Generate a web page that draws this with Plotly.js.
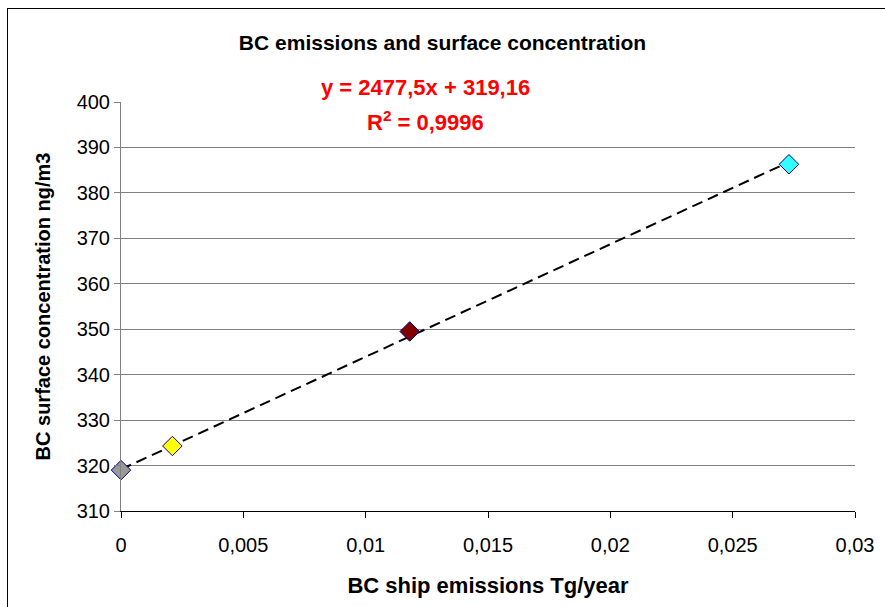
<!DOCTYPE html>
<html>
<head>
<meta charset="utf-8">
<script src="https://cdn.plot.ly/plotly-3.0.1.min.js"></script>
<style>
html,body{margin:0;padding:0;background:#fff;}
#wrap{position:relative;width:885px;height:607px;}
#chart{width:885px;height:607px;}
#frame{position:absolute;left:7px;top:8px;width:900px;height:620px;border:1px solid #000;pointer-events:none;}
</style>
</head>
<body>
<div id="wrap"><div id="chart"></div><div id="frame"></div></div>
<script>
const emissions = [0, 0.0021, 0.0118, 0.0273];
const concentration = [319.0, 324.3, 349.5, 386.3];
const markerColors = ['#999999', '#ffff00', '#800000', '#33ffff'];
const slope = 2477.5;
const intercept = 319.16;
const xTicks = [0, 0.005, 0.01, 0.015, 0.02, 0.025, 0.03];
const xTickLabels = ['0', '0,005', '0,01', '0,015', '0,02', '0,025', '0,03'];
const yTicks = [310, 320, 330, 340, 350, 360, 370, 380, 390, 400];

const trendX = [emissions[0], emissions[emissions.length - 1]];
const trendY = trendX.map(x => slope * x + intercept);

const font = 'Liberation Sans, Arial, sans-serif';

const traces = [
  {
    x: trendX, y: trendY, type: 'scatter', mode: 'lines',
    line: {color: '#000', width: 2, dash: '11px,6px'},
    hoverinfo: 'skip', showlegend: false, cliponaxis: false
  },
  {
    x: emissions, y: concentration, type: 'scatter', mode: 'markers',
    marker: {symbol: 'diamond', size: 15, color: markerColors, line: {color: '#000080', width: 1}},
    showlegend: false, cliponaxis: false
  }
];

const layout = {
  width: 885, height: 607,
  margin: {l: 121, r: 30, t: 102, b: 96},
  paper_bgcolor: '#fff', plot_bgcolor: '#fff',
  separators: ',.',
  font: {family: font, color: '#000', size: 20},
  title: {text: '<b>BC emissions and surface concentration</b>', font: {family: font, size: 21, color: '#000'}, x: 0.5, xanchor: 'center', y: 0.93, yanchor: 'middle'},
  xaxis: {
    range: [0, 0.03], tickvals: xTicks, ticktext: xTickLabels,
    showgrid: false, zeroline: false,
    showline: true, linecolor: '#000', linewidth: 1,
    ticks: 'outside', ticklen: 6, tickcolor: '#000',
    ticklabelstandoff: 10,
    tickfont: {family: font, size: 20},
    title: {text: '<b>BC ship emissions Tg/year</b>', font: {family: font, size: 22}, standoff: 22}
  },
  yaxis: {
    range: [310, 400], tickvals: yTicks,
    showgrid: true, gridcolor: '#808080', gridwidth: 1, zeroline: false,
    showline: true, linecolor: '#808080', linewidth: 1,
    ticks: 'outside', ticklen: 6, tickcolor: '#808080',
    tickfont: {family: font, size: 20},
    title: {text: '<b>BC surface concentration ng/m3</b>', font: {family: font, size: 20}, standoff: 20}
  },
  annotations: [
    {
      xref: 'paper', yref: 'paper', x: (425 - 121) / 734, y: (511 - 88) / 409,
      text: '<b>y = 2477,5x + 319,16</b>',
      showarrow: false, xanchor: 'center', yanchor: 'middle',
      font: {family: font, size: 22, color: '#ff0000'}
    },
    {
      xref: 'paper', yref: 'paper', x: (425 - 121) / 734, y: (511 - 121) / 409,
      text: '<b>R<sup>2</sup> = 0,9996</b>',
      showarrow: false, xanchor: 'center', yanchor: 'middle',
      font: {family: font, size: 22, color: '#ff0000'}
    }
  ]
};

Plotly.newPlot('chart', traces, layout, {displayModeBar: false, staticPlot: true});
</script>
</body>
</html>
